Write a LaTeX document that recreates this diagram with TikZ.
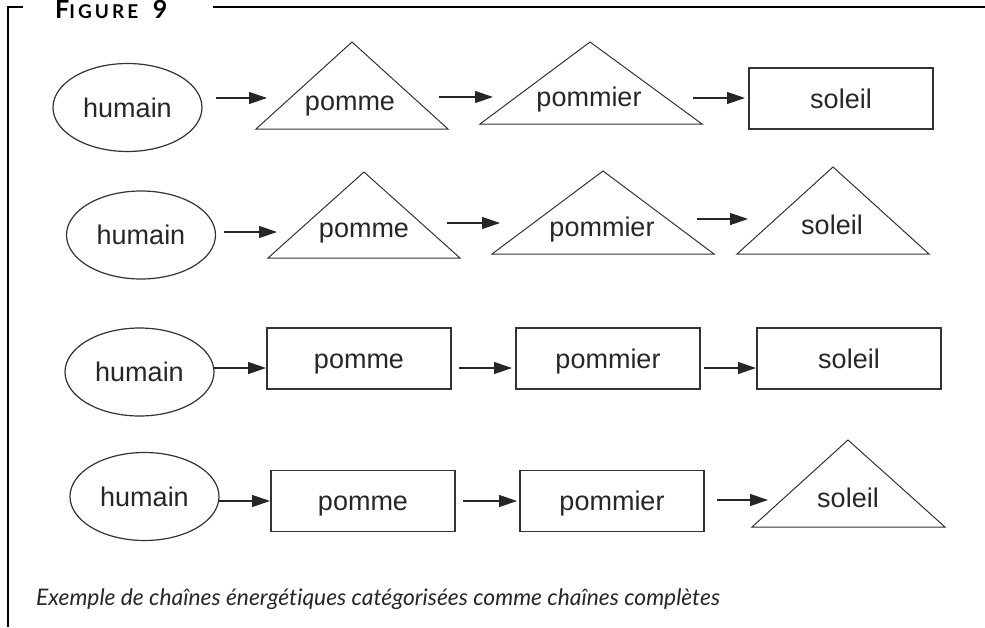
\documentclass[tikz,border=0pt]{standalone}
\usepackage{fontspec}
\setmainfont{Liberation Sans}
\newfontfamily\titrefont[LetterSpace=16]{Lato}
\newfontfamily\legfont[Ligatures=NoCommon]{Lato}
\usetikzlibrary{shapes.geometric,arrows.meta}

\begin{document}
\begin{tikzpicture}[x=1pt,y=-1pt,
    every node/.style={font=\fontsize{27}{30}\selectfont, text=black!85},
    oval/.style={draw=black!80, line width=1.2pt, ellipse, inner sep=0pt,
      minimum width=149pt, minimum height=88pt, text height=19pt, text depth=0pt},
    box/.style={draw=black!80, line width=1.2pt, rectangle, inner sep=0pt,
      minimum width=184pt, minimum height=61pt, text height=19pt, text depth=0pt},
    tri/.style={draw=black!80, line width=1pt},
    arr/.style={draw=black!85, line width=1.2pt, -{Triangle[length=18pt,width=12pt]}}]

  \useasboundingbox (0,0) rectangle (985,627);

  % cadre et titre
  \draw[line width=1.5pt] (23,7) -- (8,7) -- (8,627);
  \draw[line width=1.5pt] (213,7) -- (985,7);
  \node[anchor=base west, inner sep=0pt, font=\titrefont\bfseries, text=black] (titre) at (55,18)
    {\fontsize{25}{25}\selectfont F\fontsize{19}{19}\selectfont IGURE\hspace{7pt} \fontsize{25}{25}\selectfont 9};

  % chaine 1
  \draw[tri] (256,129) -- (352,42) -- (448,129) -- cycle;
  \draw[tri] (480,124) -- (590,42) -- (702,124) -- cycle;
  \node[oval] (hum1) at (127.5,107.5) {humain};
  \node[anchor=base] (pom1) at (350,110) {pomme};
  \node[anchor=base] (pmr1) at (589,106) {pommier};
  \node[box] (sol1) at (841,98.5) {soleil};

  % chaine 2
  \draw[tri] (268,258) -- (364,172) -- (460,258) -- cycle;
  \draw[tri] (492,254) -- (603,171) -- (714,254) -- cycle;
  \draw[tri] (737,254) -- (833,167) -- (929,254) -- cycle;
  \node[oval] (hum2) at (141,235) {humain};
  \node[anchor=base] (pom2) at (364,237) {pomme};
  \node[anchor=base] (pmr2) at (602,236) {pommier};
  \node[anchor=base] (sol2) at (832,234) {soleil};

  % chaine 3
  \node[oval] (hum3) at (139.5,372) {humain};
  \node[box] (pom3) at (359,358.5) {pomme};
  \node[box] (pmr3) at (608,358.5) {pommier};
  \node[box] (sol3) at (849,358.5) {soleil};

  % chaine 4
  \draw[tri] (752,527) -- (848,440) -- (945,527) -- cycle;
  \node[oval] (hum4) at (144.5,496.5) {humain};
  \node[box] (pom4) at (363,501) {pomme};
  \node[box] (pmr4) at (612,501) {pommier};
  \node[anchor=base] (sol4) at (848,507) {soleil};

  % fleches
  \foreach \x/\y/\l [count=\i] in {216/98/51, 439/97/54, 693/98/52,
      224/232/53, 447/223/53, 697/219/51,
      214/368/52, 459/368/53, 704/368/52,
      219/501/51, 463/501/54, 717/500/51} {
    \coordinate (f\i) at (\x,\y);
    \draw[arr] (f\i) -- ++(\l,0);
  }

  % legende
  \node[anchor=base west, inner sep=0pt, text=black!85,
    font=\legfont\itshape\fontsize{22.8}{26}\selectfont] (legende) at (36,605)
    {Exemple de chaînes énergétiques catégorisées comme chaînes complètes};
\end{tikzpicture}
\end{document}
